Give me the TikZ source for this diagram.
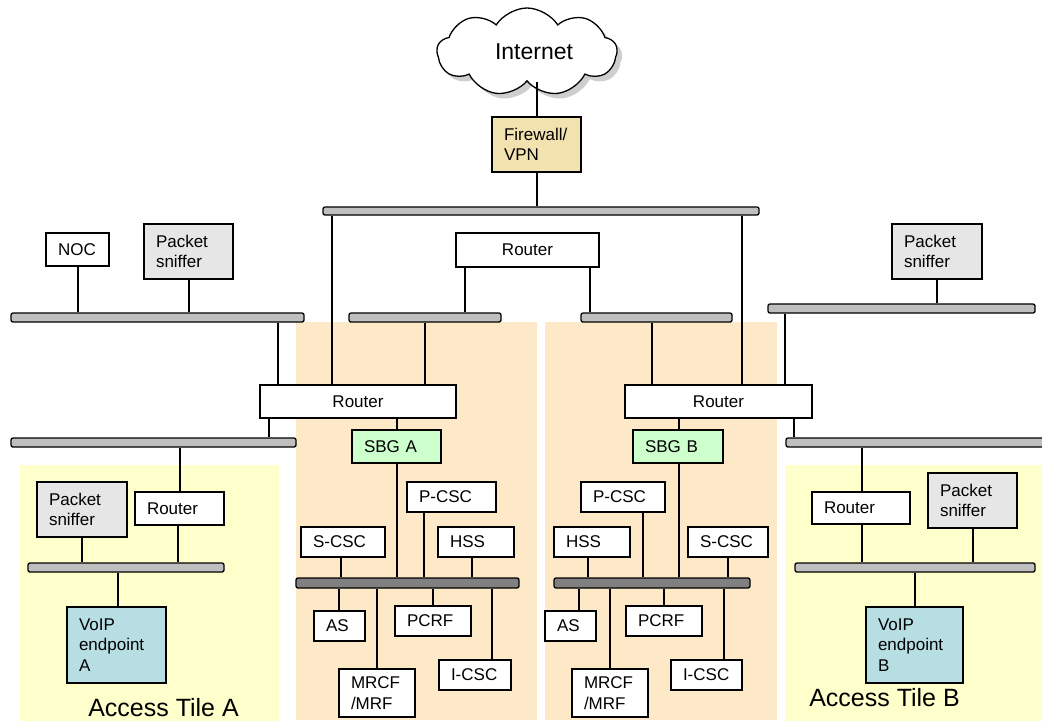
\documentclass[tikz,border=0pt]{standalone}
\usepackage{fontspec}
\setmainfont{Liberation Sans}
\usetikzlibrary{shapes.symbols,shadows}

\definecolor{tileY}{RGB}{255,255,204}
\definecolor{tileO}{RGB}{253,232,200}
\definecolor{fwC}{RGB}{242,226,176}
\definecolor{snC}{RGB}{230,230,230}
\definecolor{sbgC}{RGB}{204,255,204}
\definecolor{voipC}{RGB}{183,222,226}
\definecolor{barL}{RGB}{191,191,191}
\definecolor{barD}{RGB}{128,128,128}

\tikzset{
  unit/.style={draw, line width=1.3pt, fill=white, inner xsep=12pt, inner ysep=0pt, align=left},
  ctr/.style={align=center},
  sniff/.style={fill=snC},
  sbg/.style={fill=sbgC},
  voip/.style={fill=voipC},
  fw/.style={fill=fwC},
  lanbar/.style={rounded corners=2pt, fill=barL},
  corebar/.style={rounded corners=2pt, fill=barD},
  wire/.style={line width=1.3pt},
  tilelabel/.style={anchor=base, font=\fontsize{25}{28}\selectfont}
}

% box from its corner coordinates: [style]{name}{x1}{y1}{x2}{y2}{text}
\newcommand\blk[7][]{%
  \pgfmathsetmacro\bX{(#3+#5)/2}%
  \pgfmathsetmacro\bY{(#4+#6)/2}%
  \pgfmathsetmacro\bW{#5-#3}%
  \pgfmathsetmacro\bH{#6-#4}%
  \pgfmathsetmacro\bT{max(#5-#3-24,1)}%
  \node[unit, minimum width=\bW pt, minimum height=\bH pt, text width=\bT pt, #1] (#2) at (\bX,\bY) {#7};}

% vertical link at a given x between two node borders
\newcommand\wire[3]{\draw[wire] (#1 -| #3,0) -- (#2 -| #3,0);}

\begin{document}
\begin{tikzpicture}[x=1pt,y=-1pt, font=\fontsize{17}{20.5}\selectfont]
\clip (0,0) rectangle (1042,721);
\fill[white] (0,0) rectangle (1042,721);

% tile backgrounds
\fill[tileY] (20,465) rectangle (279,721);
\fill[tileY] (785,465) rectangle (1042,721);
\fill[tileO] (296,322) rectangle (537,720);
\fill[tileO] (545,322) rectangle (777,720);

% internet edge
\node[cloud, cloud puffs=9, cloud puff arc=115, cloud ignores aspect, draw, fill=white,
      line width=1.3pt, minimum width=180pt, minimum height=88pt,
      drop shadow={shadow xshift=5pt, shadow yshift=-5pt, fill=gray!75},
      font=\fontsize{23}{26}\selectfont, text depth=0pt, yshift=-2pt] (net) at (527,50) {\hspace*{14pt}Internet};
\blk[fw]{fw}{492}{117}{581}{172}{Firewall/\\VPN}
\blk[lanbar]{topbar}{323}{207}{759}{215}{}
\blk[ctr]{rM}{456}{233}{599}{267}{Router}
\blk[lanbar]{barML}{349}{313}{501}{322}{}
\blk[lanbar]{barMR}{581}{313}{732}{322}{}

% operations LAN
\blk[lanbar]{barOps}{11}{313}{304}{322}{}
\blk{noc}{46}{233}{109}{266}{NOC}
\blk[sniff]{snL}{144}{224}{233}{279}{Packet\\sniffer}

% edge routers and SBGs
\blk[ctr]{rA}{260}{385}{456}{418}{Router}
\blk[lanbar]{barAccA}{11}{438}{296}{447}{}
\blk[sbg]{sbgA}{352}{430}{441}{463}{SBG A}
\blk[ctr]{rB}{625}{385}{812}{418}{Router}
\blk[sbg]{sbgB}{633}{430}{723}{463}{SBG B}
\blk[lanbar]{barMon}{768}{304}{1035}{313}{}
\blk[sniff]{snR}{892}{224}{982}{279}{Packet\\sniffer}
\blk[lanbar]{barAccB}{786}{438}{1060}{447}{}

% access tile A
\blk{rtA}{135}{492}{224}{525}{Router}
\blk[sniff]{sntA}{37}{482}{127}{537}{Packet\\sniffer}
\blk[lanbar]{bartA}{28}{563}{224}{572}{}
\blk[voip]{voipA}{67}{607}{166}{683}{VoIP\\endpoint\\A}
\node[tilelabel] (labA) at (163.5,716.7) {Access Tile A};

% access tile B
\blk{rtB}{812}{492}{910}{524}{Router}
\blk[sniff]{sntB}{928}{473}{1017}{528}{Packet\\sniffer}
\blk[lanbar]{bartB}{795}{563}{1035}{572}{}
\blk[voip]{voipB}{866}{607}{963}{683}{VoIP\\endpoint\\B}
\node[tilelabel] (labB) at (884.5,706.7) {Access Tile B};

% core tile A
\blk[corebar]{coreA}{296}{578}{519}{588}{}
\blk{scA}{301}{527}{385}{557}{S-CSC}
\blk{pcA}{407}{482}{496}{512}{P-CSC}
\blk{hsA}{438}{527}{514}{557}{HSS}
\blk{asA}{314}{611}{365}{641}{AS}
\blk{prA}{395}{606}{471}{636}{PCRF}
\blk{mrA}{339}{669}{415}{717}{MRCF\\/MRF}
\blk{icA}{439}{660}{511}{690}{I-CSC}

% core tile B
\blk[corebar]{coreB}{554}{578}{750}{588}{}
\blk{pcB}{581}{482}{665}{512}{P-CSC}
\blk{hsB}{554}{527}{630}{557}{HSS}
\blk{scB}{688}{527}{768}{557}{S-CSC}
\blk{asB}{545}{611}{596}{641}{AS}
\blk{prB}{626}{606}{702}{636}{PCRF}
\blk{mrB}{572}{669}{648}{717}{MRCF\\/MRF}
\blk{icB}{671}{660}{742}{690}{I-CSC}

% links
\wire{net.south}{fw.north}{537}
\wire{fw.south}{topbar.north}{537}
\wire{topbar.south}{rA.north}{332}
\wire{topbar.south}{rB.north}{742}
\wire{rM.south}{barML.north}{465}
\wire{rM.south}{barMR.north}{590}
\wire{barML.south}{rA.north}{425}
\wire{barMR.south}{rB.north}{652}
\wire{noc.south}{barOps.north}{78}
\wire{snL.south}{barOps.north}{189}
\wire{barOps.south}{rA.north}{278}
\wire{rA.south}{barAccA.north}{269}
\wire{rA.south}{sbgA.north}{397}
\wire{sbgA.south}{coreA.north}{397}
\wire{barMon.south}{rB.north}{785}
\wire{snR.south}{barMon.north}{937}
\wire{rB.south}{sbgB.north}{679}
\wire{sbgB.south}{coreB.north}{679}
\wire{rB.south}{barAccB.north}{794}
\wire{barAccA.south}{rtA.north}{180}
\wire{sntA.south}{bartA.north}{82}
\wire{rtA.south}{bartA.north}{178}
\wire{bartA.south}{voipA.north}{118}
\wire{barAccB.south}{rtB.north}{862}
\wire{rtB.south}{bartB.north}{862}
\wire{sntB.south}{bartB.north}{973}
\wire{bartB.south}{voipB.north}{915}
\wire{scA.south}{coreA.north}{341}
\wire{pcA.south}{coreA.north}{424}
\wire{hsA.south}{coreA.north}{472}
\wire{coreA.south}{asA.north}{339}
\wire{coreA.south}{prA.north}{433}
\wire{coreA.south}{mrA.north}{377}
\wire{coreA.south}{icA.north}{492}
\wire{hsB.south}{coreB.north}{588}
\wire{pcB.south}{coreB.north}{643}
\wire{scB.south}{coreB.north}{728}
\wire{coreB.south}{asB.north}{579}
\wire{coreB.south}{prB.north}{664}
\wire{coreB.south}{mrB.north}{610}
\wire{coreB.south}{icB.north}{724}
\end{tikzpicture}
\end{document}
